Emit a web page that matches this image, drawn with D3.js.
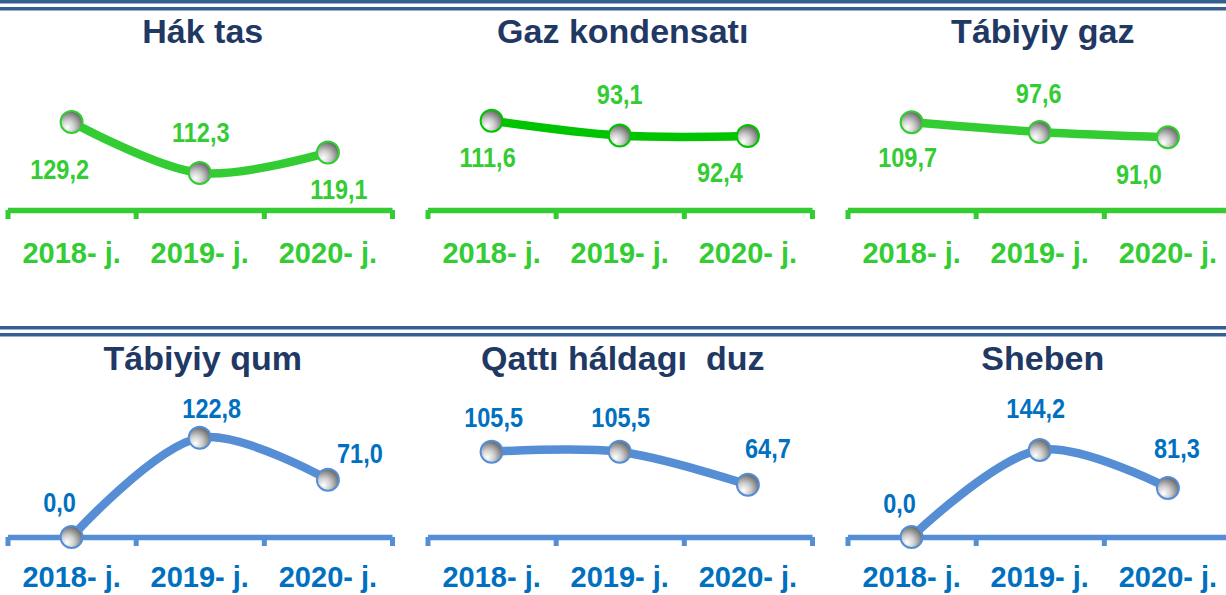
<!DOCTYPE html>
<html>
<head>
<meta charset="utf-8">
<script src="https://cdn.jsdelivr.net/npm/d3@7"></script>
<style>
  body { margin: 0; background: #fff; }
  svg { display: block; }
  .title { font-family: "Liberation Sans", Arial, sans-serif; font-weight: bold; font-size: 34px; fill: #1f3864; white-space: pre; }
  .val { font-family: "Liberation Sans Narrow", "Liberation Sans", Arial, sans-serif; font-weight: bold; font-size: 28px; }
  .cat text { font-family: "Liberation Sans", Arial, sans-serif; font-weight: bold; font-size: 29px; }
</style>
</head>
<body>
<svg id="chart" width="1226" height="595"></svg>
<script>
/// data ///
const years = ["2018- j.", "2019- j.", "2020- j."];
const titles = ["Hák tas", "Gaz kondensatı", "Tábiyiy gaz", "Tábiyiy qum", "Qattı háldagı  duz", "Sheben"];
const hakTas = [129.2, 112.3, 119.1];
const gazKondensat = [111.6, 93.1, 92.4];
const tabiyiyGaz = [109.7, 97.6, 91.0];
const tabiyiyQum = [0.0, 122.8, 71.0];
const qattiDuz = [105.5, 105.5, 64.7];
const sheben = [0.0, 144.2, 81.3];
// value axis ranges of each small chart
const yMin = [100, 0, 0, 0, 0, 0];
const yMax = [134.5, 130, 130, 130, 130, 174];

const series = [hakTas, gazKondensat, tabiyiyGaz, tabiyiyQum, qattiDuz, sheben];

/// layout ///
const width = 1226, height = 595;
const colStep = 420;
const rows = [
  { axisY: 210, plotH: 104, titleY: 43, catY: 53 },
  { axisY: 537, plotH: 105, titleY: 370, catY: 50 }
];
const green = "#33cc33", blue = "#558ed5";
const panelStyle = [
  { line: green, axis: green, text: green },
  { line: "#00c400", axis: green, text: green },
  { line: green, axis: green, text: green },
  { line: blue, axis: blue, text: "#0070c0" },
  { line: blue, axis: blue, text: "#0070c0" },
  { line: blue, axis: blue, text: "#0070c0" }
];
// label offsets from the marker centre [dx, dy]
const labelOffsets = [
  [[-12, 57], [1, -31], [11, 47]],
  [[-4, 46], [0, -32], [-28, 46]],
  [[-4, 45], [-1, -29], [-29, 47]],
  [[-12, -25], [12, -20], [32, -17]],
  [[2, -25], [1, -25], [20, -27]],
  [[-12, -24], [-4, -32], [9, -30]]
];

const fmt = d3.formatLocale({ decimal: ",", thousands: " ", grouping: [3], currency: ["", ""] }).format(".1f");

const svg = d3.select("#chart");

// marker gradient
const grad = svg.append("defs").append("radialGradient")
  .attr("id", "ball").attr("cx", "35%").attr("cy", "70%").attr("r", "75%")
  .attr("fx", "30%").attr("fy", "75%");
grad.append("stop").attr("offset", "0%").attr("stop-color", "#ffffff");
grad.append("stop").attr("offset", "40%").attr("stop-color", "#cfcfcf");
grad.append("stop").attr("offset", "100%").attr("stop-color", "#5e5e5e");

// double rules above each row
[[0, 7], [326, 333]].forEach(pair => {
  pair.forEach(y0 => {
    svg.append("rect").attr("x", 0).attr("y", y0).attr("width", width).attr("height", 3.5).attr("fill", "#365f91");
  });
});

series.forEach((vals, i) => {
  const row = rows[Math.floor(i / 3)];
  const st = panelStyle[i];
  const g = svg.append("g").attr("transform", `translate(${(i % 3) * colStep},0)`);

  const x = d3.scaleBand().domain(years).range([7.5, 392]);
  const edges = d3.scaleLinear().domain([0, years.length]).range(x.range());
  const y = d3.scaleLinear().domain([yMin[i], yMax[i]]).range([row.axisY, row.axisY - row.plotH]);
  const cx = d => x(d) + x.bandwidth() / 2;

  // title
  g.append("text").attr("class", "title")
    .attr("x", (x.range()[0] + x.range()[1]) / 2 + 3).attr("y", row.titleY)
    .attr("text-anchor", "middle").text(titles[i]);

  // axis line with ticks at band edges
  const ax = g.append("g").attr("transform", `translate(0,${row.axisY})`)
    .call(d3.axisBottom(edges).tickValues(d3.range(years.length + 1)).tickSize(9).tickSizeOuter(0).tickFormat(""));
  ax.select(".domain").attr("stroke", st.axis).attr("stroke-width", 5.5);
  ax.selectAll(".tick line").attr("stroke", st.axis).attr("stroke-width", 5);

  // category labels
  const cat = g.append("g").attr("class", "cat").attr("transform", `translate(0,${row.axisY})`)
    .call(d3.axisBottom(x).tickSize(0));
  cat.select(".domain").remove();
  cat.selectAll(".tick text").attr("y", row.catY).attr("dy", 0).attr("fill", st.text);

  // smoothed line
  const pts = years.map((yr, j) => ({ yr, v: vals[j], j }));
  g.append("path").datum(pts)
    .attr("fill", "none").attr("stroke", st.line).attr("stroke-width", 8.5)
    .attr("d", d3.line().x(d => cx(d.yr)).y(d => y(d.v)).curve(d3.curveCatmullRom.alpha(0.5)));

  // markers
  g.selectAll("circle").data(pts).join("circle")
    .attr("cx", d => cx(d.yr)).attr("cy", d => y(d.v)).attr("r", 11)
    .attr("fill", "url(#ball)").attr("stroke", st.line).attr("stroke-width", 2);

  // value labels (narrow face, squeezed horizontally)
  g.selectAll(".val").data(pts).join("text").attr("class", "val")
    .attr("transform", d => `translate(${cx(d.yr) + labelOffsets[i][d.j][0]},${y(d.v) + labelOffsets[i][d.j][1]}) scale(0.84,1)`)
    .attr("text-anchor", "middle").attr("fill", st.text)
    .text(d => fmt(d.v));
});
</script>
</body>
</html>
